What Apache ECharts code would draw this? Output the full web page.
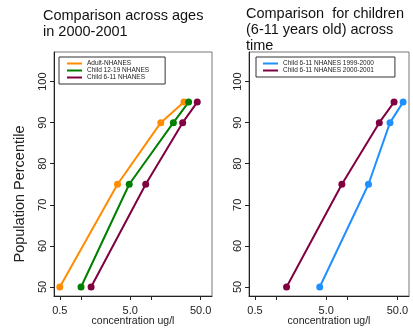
<!DOCTYPE html>
<html>
<head>
<meta charset="utf-8">
<script src="https://cdn.jsdelivr.net/npm/echarts@6/dist/echarts.min.js"></script>
<style>
  html, body { margin: 0; padding: 0; background: #fff; }
  #chart { width: 413px; height: 330px; }
</style>
</head>
<body>
<div id="chart"></div>
<script>
// percentiles shared by every series
var percentiles = [50, 75, 90, 95]
// concentration (ug/l) at each percentile
var adult2000 = [0.5, 3.3, 13.6, 29]
var child1219_2000 = [1.0, 4.84, 20.5, 33.8]
var child611_2000 = [1.39, 8.3, 27.8, 44.8]
var child611_1999 = [4.06, 19.6, 39.3, 60]

var xTicks = [0.5, 1, 5, 10, 50]
var xLabels = [0.5, 5, 50]
var yTicks = [50, 60, 70, 80, 90, 100]

function pairs(xs) {
  return xs.map(function (x, i) { return [x, percentiles[i]] })
}

var font = 'Liberation Sans, Arial, sans-serif'
var myChart = echarts.init(document.getElementById('chart'), null, {renderer: 'canvas'})

function xAxisOf(idx) {
  return {
    type: 'log',
    logBase: 10,
    gridIndex: idx,
    min: 0.413,
    max: 72.6,
    name: 'concentration ug/l',
    nameLocation: 'middle',
    nameGap: 20,
    nameMoveOverlap: false,
    nameTextStyle: {fontFamily: font, fontSize: 10.5, color: '#222'},
    axisLine: {show: true, lineStyle: {color: '#222', width: 1}},
    axisTick: {show: true, length: 4, customValues: xTicks, lineStyle: {color: '#222'}},
    axisLabel: {
      customValues: xLabels,
      margin: 9,
      fontFamily: font,
      fontSize: 11,
      color: '#222',
      formatter: function (v) { return Number(v).toFixed(1) }
    },
    splitLine: {show: false},
    minorTick: {show: false}
  }
}

function yAxisOf(idx) {
  return {
    type: 'value',
    gridIndex: idx,
    min: 47.8,
    max: 107.2,
    axisLine: {show: true, lineStyle: {color: '#222', width: 1}},
    axisTick: {show: true, length: 4, customValues: yTicks, lineStyle: {color: '#222'}},
    axisLabel: {
      customValues: yTicks,
      rotate: 90,
      margin: 6,
      fontFamily: font,
      fontSize: 11,
      color: '#222'
    },
    splitLine: {show: false}
  }
}

function lineSeries(name, xs, color, idx, width) {
  return {
    name: name,
    type: 'line',
    xAxisIndex: idx,
    yAxisIndex: idx,
    data: pairs(xs),
    symbol: 'circle',
    symbolSize: 7,
    showSymbol: true,
    itemStyle: {color: color},
    lineStyle: {color: color, width: width},
    emphasis: {disabled: true},
    animation: false
  }
}

var option = {
  animation: false,
  backgroundColor: '#fff',
  title: [
    {
      text: 'Comparison across ages\nin 2000-2001',
      left: 43,
      top: 8,
      padding: 0,
      textStyle: {fontFamily: font, fontSize: 14.5, fontWeight: 'normal', color: '#111', lineHeight: 16}
    },
    {
      text: 'Comparison  for children\n(6-11 years old) across\ntime',
      left: 246,
      top: 6,
      padding: 0,
      textStyle: {fontFamily: font, fontSize: 14.5, fontWeight: 'normal', color: '#111', lineHeight: 16}
    }
  ],
  legend: [
    {
      orient: 'vertical',
      left: 59,
      top: 57,
      padding: [3, 16, 3, 8],
      itemGap: 0,
      itemWidth: 15,
      itemHeight: 2,
      icon: 'rect',
      borderColor: '#333',
      borderWidth: 1,
      textStyle: {fontFamily: font, fontSize: 6.5, color: '#222', lineHeight: 7},
      data: ['Adult-NHANES', 'Child 12-19 NHANES', 'Child 6-11 NHANES']
    },
    {
      orient: 'vertical',
      left: 256,
      top: 57,
      padding: [3, 21, 3, 7],
      itemGap: 0,
      itemWidth: 15,
      itemHeight: 2,
      icon: 'rect',
      borderColor: '#333',
      borderWidth: 1,
      textStyle: {fontFamily: font, fontSize: 6.5, color: '#222', lineHeight: 7},
      data: ['Child 6-11 NHANES 1999-2000', 'Child 6-11 NHANES 2000-2001']
    }
  ],
  grid: [
    {left: 54, top: 52, width: 158, height: 244, show: true, borderColor: '#777', borderWidth: 1,
      backgroundColor: 'transparent', outerBoundsMode: 'none', containLabel: false},
    {left: 249, top: 52, width: 160, height: 244, show: true, borderColor: '#777', borderWidth: 1,
      backgroundColor: 'transparent', outerBoundsMode: 'none', containLabel: false}
  ],
  xAxis: [xAxisOf(0), xAxisOf(1)],
  yAxis: [yAxisOf(0), yAxisOf(1)],
  graphic: [
    {
      type: 'text',
      x: 20,
      y: 194,
      rotation: Math.PI / 2,
      style: {
        text: 'Population Percentile',
        fontFamily: font,
        fontSize: 14.5,
        fill: '#222',
        align: 'center',
        verticalAlign: 'middle'
      }
    }
  ],
  series: [
    lineSeries('Adult-NHANES', adult2000, '#ff8c00', 0, 2),
    lineSeries('Child 12-19 NHANES', child1219_2000, '#008000', 0, 2),
    lineSeries('Child 6-11 NHANES', child611_2000, '#800040', 0, 2),
    lineSeries('Child 6-11 NHANES 1999-2000', child611_1999, '#1e90ff', 1, 2),
    lineSeries('Child 6-11 NHANES 2000-2001', child611_2000, '#800040', 1, 2)
  ]
}
myChart.setOption(option)
</script>
</body>
</html>
